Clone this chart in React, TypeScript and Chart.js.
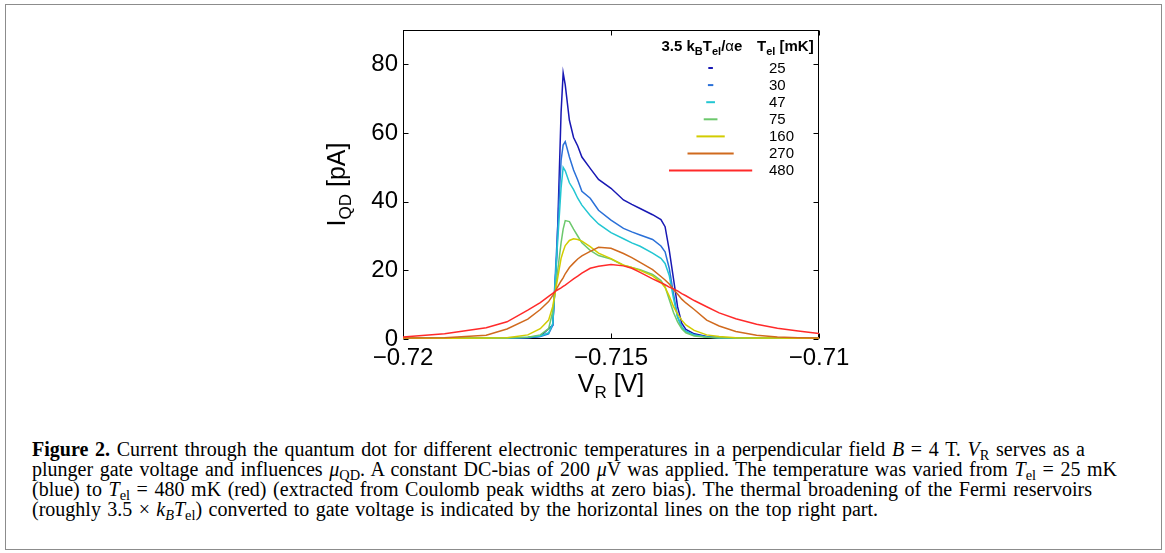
import React, { useEffect, useRef } from "react";
import { Chart, registerables } from "chart.js";

Chart.register(...registerables);

// Gate voltage V_R [V]
const vR = [
  -0.72, -0.719, -0.718, -0.7175, -0.717, -0.7167, -0.7165, -0.7164, -0.7163, -0.7162,
  -0.71615, -0.7161, -0.716, -0.7159, -0.7158, -0.7157, -0.7155, -0.7153, -0.715, -0.7147,
  -0.7145, -0.7143, -0.714, -0.7138, -0.7137, -0.7136, -0.7135, -0.7134, -0.7133, -0.7132,
  -0.713, -0.7127, -0.7124, -0.712, -0.7115, -0.711, -0.7105, -0.71,
];

// I_QD [pA] for each electron temperature
const i25 = [
  0.2, 0.2, 0.3, 0.3, 0.4, 0.8, 3.0, 4.0, 25, 66,
  77.5, 74, 63.7, 58.7, 56.2, 53, 49.7, 46.5, 43.9, 40.5,
  39.2, 38, 36.2, 34.8, 32.7, 25.9, 17.7, 9.4, 4.6, 2.8,
  1.5, 0.7, 0.4, 0.3, 0.2, 0.2, 0.2, 0.2,
];
const i30 = [
  0.2, 0.2, 0.3, 0.3, 0.4, 0.7, 1.5, 4.0, 28, 52,
  56.5, 57.5, 53, 49.2, 46.3, 43, 41, 37.5, 34.6, 32.2,
  31.2, 30.3, 29, 27.1, 25.4, 20.6, 13.3, 6.5, 3.5, 2.2,
  1.2, 0.6, 0.4, 0.3, 0.2, 0.2, 0.2, 0.2,
];
const i47 = [
  0.2, 0.2, 0.3, 0.3, 0.5, 0.9, 1.8, 4.5, 25, 44,
  50, 49, 45.5, 43.5, 41, 39, 36, 33.5, 31, 29.2,
  28, 27, 25, 23.5, 22, 18.5, 12, 6.5, 3.5, 2.2,
  1.2, 0.6, 0.4, 0.3, 0.3, 0.2, 0.2, 0.2,
];
const i75 = [
  0.2, 0.3, 0.3, 0.4, 0.5, 1.2, 3.0, 8.0, 18, 28,
  32, 34.5, 34.2, 32, 30, 28, 25.8, 24.3, 23.3, 21.5,
  20.8, 20.2, 18.8, 17, 15.2, 11.5, 7.8, 5.0, 3.0, 1.8,
  0.9, 0.5, 0.4, 0.3, 0.3, 0.3, 0.2, 0.2,
];
const i160 = [
  0.2, 0.2, 0.3, 0.4, 1.2, 3.0, 5.5, 9.5, 16.5, 23.5,
  25.5, 27.2, 28.7, 29.2, 29, 28.5, 26.9, 25, 23.4, 21.5,
  20.8, 20, 18.4, 16.5, 15, 12.5, 9.5, 7.3, 5.5, 4.1,
  2.5, 1.2, 0.7, 0.4, 0.3, 0.3, 0.2, 0.2,
];
const i270 = [
  0.3, 0.4, 1.1, 2.9, 5.8, 8.6, 10.9, 12.7, 14.8, 16.9,
  17.8, 19, 20.8, 22.1, 23.3, 24.2, 25.5, 26.7, 26.4, 24.9,
  23.7, 22.3, 20.2, 18.2, 17.2, 16.0, 14.5, 13.1, 11.6, 10.5,
  8.6, 5.5, 3.8, 2.2, 1.1, 0.6, 0.4, 0.3,
];
const i480 = [
  0.6, 1.5, 3.3, 5.0, 8.4, 10.6, 12.4, 13.3, 14.2, 14.9,
  15.3, 15.7, 16.6, 17.5, 18.3, 19.2, 20.6, 21.2, 21.7, 21.3,
  20.6, 19.4, 17.5, 16.4, 15.8, 15.1, 14.6, 14.0, 13.2, 12.6,
  11.2, 9.4, 7.6, 5.9, 4.3, 3.1, 2.3, 1.6,
];

const temperatures = [25, 30, 47, 75, 160, 270, 480];
// 3.5 k_B T_el / (alpha e) converted to gate voltage [mV]
const broadeningMV = [0.11, 0.13, 0.21, 0.33, 0.68, 1.11, 2.0];
const xTicks = [-0.72, -0.715, -0.71];
const yTicks = [0, 20, 40, 60, 80];

const seriesList = [i25, i30, i47, i75, i160, i270, i480];
const colors = ["#1818b4", "#2a70d8", "#22c6d2", "#6cc86c", "#d2cc00", "#d06a1e", "#ff2a2a"];

const SANS = "'Liberation Sans', Arial, Helvetica, sans-serif";

type Part = { t: string; sub?: boolean; italic?: boolean; bold?: boolean; size?: number };

function drawRich(ctx: CanvasRenderingContext2D, x: number, y: number, parts: Part[], base: number, subSize: number, subDrop: number, bold: boolean, measureOnly = false) {
  let cx = x;
  for (const p of parts) {
    const size = p.sub ? subSize : base;
    ctx.font = `${p.italic ? "italic " : ""}${(p.bold ?? bold) ? "bold " : ""}${size}px ${SANS}`;
    if (!measureOnly) ctx.fillText(p.t, cx, y + (p.sub ? subDrop : 0));
    cx += ctx.measureText(p.t).width;
  }
  return cx - x;
}

const decorPlugin = {
  id: "decor",
  beforeDatasetsDraw(chart: any) {
    const { ctx, chartArea: a, scales } = chart;
    const x = scales.x, y = scales.y;
    ctx.save();
    ctx.strokeStyle = "#000";
    ctx.lineWidth = 1;
    const L = Math.round(a.left) + 0.5, R = Math.round(a.right) - 0.5;
    const T = Math.round(a.top) + 0.5, B = Math.round(a.bottom) - 0.5;
    ctx.strokeRect(L, T, R - L, B - T);
    const tl = 5;
    ctx.beginPath();
    for (const v of yTicks) {
      const py = Math.round(y.getPixelForValue(v)) + 0.5;
      ctx.moveTo(L, py); ctx.lineTo(L + tl, py);
      ctx.moveTo(R, py); ctx.lineTo(R - tl, py);
    }
    for (const v of xTicks) {
      const px = Math.round(x.getPixelForValue(v)) + 0.5;
      ctx.moveTo(px, B); ctx.lineTo(px, B - tl);
      ctx.moveTo(px, T); ctx.lineTo(px, T + tl);
    }
    ctx.stroke();
    ctx.restore();
  },
  afterDraw(chart: any) {
    const { ctx, chartArea: a, scales } = chart;
    const x = scales.x;
    ctx.save();
    ctx.fillStyle = "#000";
    ctx.textBaseline = "alphabetic";
    ctx.textAlign = "left";

    // Legend header
    drawRich(ctx, 661.5, 50.5, [
      { t: "3.5 k" }, { t: "B", sub: true }, { t: "T" }, { t: "el", sub: true }, { t: "/" }, { t: "\u03b1", bold: false }, { t: "e" },
    ], 15, 11, 4.5, true);
    drawRich(ctx, 757, 50.5, [
      { t: "T" }, { t: "el", sub: true }, { t: " [mK]" },
    ], 15, 11, 4.5, true);

    // Legend bars (thermal broadening widths) and temperature labels
    const cx = 710.6;
    const pxPerMV = Math.abs(x.getPixelForValue(-0.719) - x.getPixelForValue(-0.72));
    temperatures.forEach((t, k) => {
      const yy = 68 + 17.1 * k;
      const w = broadeningMV[k] * pxPerMV;
      ctx.strokeStyle = colors[k];
      ctx.lineWidth = 2;
      ctx.beginPath();
      ctx.moveTo(cx - w / 2, yy);
      ctx.lineTo(cx + w / 2, yy);
      ctx.stroke();
      ctx.font = `15px ${SANS}`;
      ctx.textBaseline = "middle";
      ctx.fillText(String(t), 769, yy + 0.5);
    });

    // Y axis title
    ctx.textBaseline = "alphabetic";
    ctx.save();
    const midY = (a.top + a.bottom) / 2;
    ctx.translate(345, midY);
    ctx.rotate(-Math.PI / 2);
    const yParts: Part[] = [{ t: "I" }, { t: "QD", sub: true }, { t: " [pA]" }];
    const wy = drawRich(ctx, 0, 0, yParts, 25, 17, 6, false, true);
    drawRich(ctx, -wy / 2, 0, yParts, 25, 17, 6, false);
    ctx.restore();

    // X axis title
    const xParts: Part[] = [{ t: "V" }, { t: "R", sub: true }, { t: " [V]" }];
    const wx = drawRich(ctx, 0, 0, xParts, 25, 17, 6, false, true);
    drawRich(ctx, (a.left + a.right) / 2 - wx / 2, 392, xParts, 25, 17, 6, false);
    ctx.restore();
  },
};

const captionTargets = [1053, 1085, 1060, 846];
const captionTops = [439, 459, 479, 499];

const sub = (s: string) => (
  <span style={{ fontSize: "0.72em", position: "relative", top: "0.28em" }}>{s}</span>
);

const captionLines = [
  <>
    <b>Figure 2.</b> Current through the quantum dot for different electronic temperatures in a perpendicular field <i>B</i> = 4 T. <i>V</i>{sub("R")} serves as a
  </>,
  <>
    plunger gate voltage and influences <i>{"\u03bc"}</i>{sub("QD")}. A constant DC-bias of 200 <i>{"\u03bc"}</i>V was applied. The temperature was varied from <i>T</i>{sub("el")} = 25 mK
  </>,
  <>
    (blue) to <i>T</i>{sub("el")} = 480 mK (red) (extracted from Coulomb peak widths at zero bias). The thermal broadening of the Fermi reservoirs
  </>,
  <>
    (roughly 3.5 {"\u00d7"} <i>k</i><i>{sub("B")}</i><i>T</i>{sub("el")}) converted to gate voltage is indicated by the horizontal lines on the top right part.
  </>,
];

export default function App() {
  const canvasRef = useRef<HTMLCanvasElement>(null);
  const capRefs = useRef<(HTMLSpanElement | null)[]>([]);

  useEffect(() => {
    const canvas = canvasRef.current!;
    const chart = new Chart(canvas, {
      type: "line",
      data: {
        datasets: seriesList.map((s, k) => ({
          label: `${temperatures[k]} mK`,
          data: vR.map((v, j) => ({ x: v, y: s[j] })),
          borderColor: colors[k],
          backgroundColor: colors[k],
          borderWidth: 1.5,
          pointRadius: 0,
          tension: 0,
          fill: false,
          order: seriesList.length - k,
        })),
      },
      options: {
        animation: false,
        responsive: false,
        devicePixelRatio: 1,
        layout: { padding: { left: 300, right: 346, top: 30, bottom: 0 } },
        plugins: { legend: { display: false }, tooltip: { enabled: false }, title: { display: false } },
        scales: {
          x: {
            type: "linear",
            min: -0.72,
            max: -0.71,
            border: { display: false },
            grid: { display: false, drawTicks: false },
            afterBuildTicks: (s: any) => { s.ticks = xTicks.map((v) => ({ value: v })); },
            afterFit: (s: any) => { s.height = 61; },
            ticks: {
              autoSkip: false,
              maxRotation: 0,
              padding: 5,
              color: "#000",
              font: { family: SANS, size: 24 },
              callback: (v: any) => String(v).replace("-", "\u2212"),
            },
          },
          y: {
            type: "linear",
            min: 0,
            max: 90,
            border: { display: false },
            grid: { display: false, drawTicks: false },
            afterBuildTicks: (s: any) => { s.ticks = yTicks.map((v) => ({ value: v })); },
            afterFit: (s: any) => { s.width = 103; },
            ticks: {
              autoSkip: false,
              padding: 5,
              color: "#000",
              font: { family: SANS, size: 24 },
            },
          },
        },
      },
      plugins: [decorPlugin],
    } as any);
    return () => chart.destroy();
  }, []);

  useEffect(() => {
    capRefs.current.forEach((el, i) => {
      if (!el) return;
      el.style.wordSpacing = "0px";
      const w = el.getBoundingClientRect().width;
      const n = (el.textContent || "").split(" ").length - 1;
      if (n > 0) el.style.wordSpacing = `${(captionTargets[i] - w) / n}px`;
    });
  }, []);

  return (
    <div style={{ position: "absolute", left: 0, top: 0, width: 1165, height: 553, overflow: "hidden", background: "#fff" }}>
      <div style={{ position: "absolute", left: 5, top: 4, width: 1155, height: 544, border: "1px solid #8c8c8c" }} />
      <canvas ref={canvasRef} width={1165} height={400} style={{ position: "absolute", left: 0, top: 0, width: 1165, height: 400 }} />
      {captionLines.map((line, i) => (
        <div
          key={i}
          style={{
            position: "absolute",
            left: 32,
            top: captionTops[i],
            whiteSpace: "nowrap",
            fontFamily: "'Liberation Serif', 'Times New Roman', serif",
            fontSize: 20,
            lineHeight: "20px",
            color: "#000",
          }}
        >
          <span ref={(el) => { capRefs.current[i] = el; }}>{line}</span>
        </div>
      ))}
    </div>
  );
}
